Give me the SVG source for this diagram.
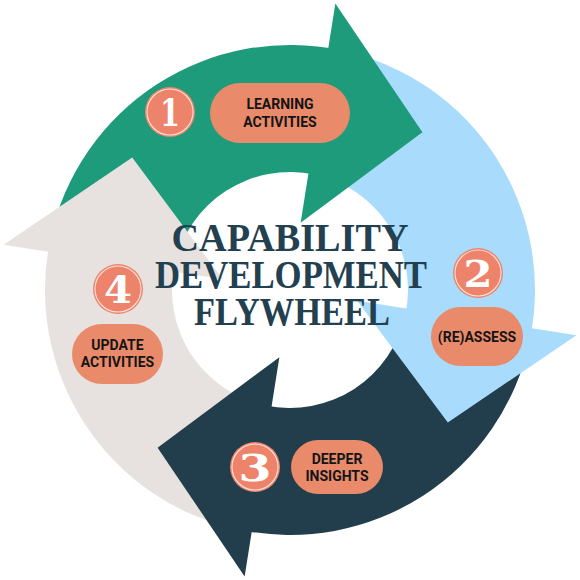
<svg xmlns="http://www.w3.org/2000/svg" xmlns:xlink="http://www.w3.org/1999/xlink" width="580" height="580" viewBox="0 0 580 580">
  <style>
    .green { fill: #1e9b7a; }
    .blue { fill: #a9dbfc; }
    .dark { fill: #223d4b; }
    .gray { fill: #e7e2df; }
    .pill { fill: #e98a6b; }
    .badge { fill: #ee836b; }
    .badge-ring { fill: none; stroke: #fbe2d8; stroke-width: 1.1; }
    .num { font-family: "DejaVu Serif", "Liberation Serif", serif; font-weight: 900; font-size: 37px; fill: #ffffff; text-anchor: middle; }
    .lbl { font-family: Roboto, "Liberation Sans", sans-serif; font-weight: 700; font-size: 14px; fill: #141414; text-anchor: middle; }
    .title { font-family: "Liberation Serif", "DejaVu Serif", serif; font-weight: 700; font-size: 39px; fill: #22404f; text-anchor: middle; }
  </style>
  <defs>
    <path id="body" d="M50.35,239.06 A245,245 0 0 1 340.94,50.35 L314.53,174.58 A118,118 0 0 0 174.58,265.47 Z"/>
    <path id="head" d="M335.36,3.57 L422.41,132.20 L300.64,222.84 Z"/>
  </defs>

  <g id="connectors">
    <use xlink:href="#body" href="#body" class="green"/>
    <use xlink:href="#body" href="#body" class="blue" transform="rotate(90 290 290)"/>
    <use xlink:href="#body" href="#body" class="dark" transform="rotate(180 290 290)"/>
    <use xlink:href="#body" href="#body" class="gray" transform="rotate(270 290 290)"/>
    <use xlink:href="#head" href="#head" class="green"/>
    <use xlink:href="#head" href="#head" class="blue" transform="rotate(90 290 290)"/>
    <use xlink:href="#head" href="#head" class="dark" transform="rotate(180 290 290)"/>
    <use xlink:href="#head" href="#head" class="gray" transform="rotate(270 290 290)"/>
  </g>

  <g id="step-1">
    <circle class="badge" cx="170" cy="112" r="25"/>
    <circle class="badge-ring" cx="170" cy="112" r="23"/>
    <text class="num" x="170" y="126" textLength="20" lengthAdjust="spacingAndGlyphs">1</text>
    <rect class="pill" x="210" y="83" width="140" height="60" rx="30"/>
    <text class="lbl" x="280" y="109">LEARNING</text>
    <text class="lbl" x="280" y="126.5">ACTIVITIES</text>
  </g>

  <g id="step-2">
    <circle class="badge" cx="478" cy="273" r="25"/>
    <circle class="badge-ring" cx="478" cy="273" r="23"/>
    <text class="num" x="478" y="287" textLength="29" lengthAdjust="spacingAndGlyphs">2</text>
    <rect class="pill" x="431" y="307" width="92" height="59" rx="29.5"/>
    <text class="lbl" x="477" y="341.5">(RE)ASSESS</text>
  </g>

  <g id="step-3">
    <circle class="badge" cx="255" cy="467" r="25"/>
    <circle class="badge-ring" cx="255" cy="467" r="23"/>
    <text class="num" x="255" y="481" textLength="33" lengthAdjust="spacingAndGlyphs">3</text>
    <rect class="pill" x="291" y="440" width="92" height="54" rx="27"/>
    <text class="lbl" x="337" y="463.5">DEEPER</text>
    <text class="lbl" x="337" y="480.5">INSIGHTS</text>
  </g>

  <g id="step-4">
    <circle class="badge" cx="118" cy="289" r="25"/>
    <circle class="badge-ring" cx="118" cy="289" r="23"/>
    <text class="num" x="118" y="303" textLength="28" lengthAdjust="spacingAndGlyphs">4</text>
    <rect class="pill" x="72" y="324" width="91" height="60" rx="30"/>
    <text class="lbl" x="117.5" y="350">UPDATE</text>
    <text class="lbl" x="117.5" y="367">ACTIVITIES</text>
  </g>

  <g id="title">
    <text class="title"><tspan x="290" y="251" textLength="237" lengthAdjust="spacingAndGlyphs">CAPABILITY</tspan><tspan x="291" y="288" textLength="272" lengthAdjust="spacingAndGlyphs">DEVELOPMENT</tspan><tspan x="292" y="325" textLength="196" lengthAdjust="spacingAndGlyphs">FLYWHEEL</tspan></text>
  </g>
</svg>
